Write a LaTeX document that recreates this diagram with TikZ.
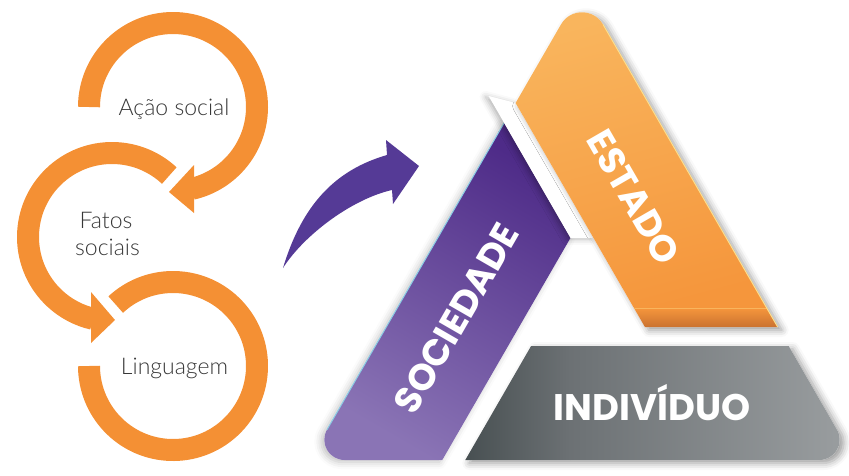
\documentclass[tikz,border=0pt]{standalone}
\usepackage{fontspec}
\newfontfamily\labelfont{Lato Light}
\newfontfamily\bandfont{Poppins Bold}
\usetikzlibrary{calc,shadows.blur}

\definecolor{ringorange}{RGB}{244,144,52}
\definecolor{labelgrey}{RGB}{55,55,55}
\definecolor{arrowpurple}{RGB}{85,58,150}
\definecolor{orangeTop}{RGB}{249,181,93}
\definecolor{orangeMid}{RGB}{245,150,60}
\definecolor{orangeDeep}{RGB}{200,112,48}
\definecolor{purpleDark}{RGB}{78,43,136}
\definecolor{purpleLight}{RGB}{138,116,181}
\definecolor{greyDark}{RGB}{70,78,80}
\definecolor{greyMid}{RGB}{108,113,116}
\definecolor{greyLight}{RGB}{156,160,162}
\definecolor{edgeBlue}{RGB}{140,205,230}
\definecolor{edgeYellow}{RGB}{252,222,140}

\tikzset{
  ring/.style={draw=ringorange, line width=22pt},
  ringhead/.style={fill=ringorange},
  lab/.style={font=\labelfont\fontsize{23}{27}\selectfont, text=labelgrey, inner sep=0pt},
  bandtext/.style={font=\bandfont\fontsize{37}{40}\selectfont, text=white, inner sep=0pt},
  bandshadow/.style={blur shadow={shadow xshift=4pt, shadow yshift=-3pt,
      shadow blur radius=7pt, shadow opacity=40}},
}

\begin{document}
\begin{tikzpicture}[x=1pt,y=-1pt]
\useasboundingbox (0,0) rectangle (849,475);

% ---------- cycle of three rings ----------
\coordinate (c1) at (173,107);
\coordinate (c2) at (112,237);
\coordinate (c3) at (173,366);

\draw[ring] ($(c1)+(180:84)$) arc[start angle=180, end angle=437, radius=84];
\fill[ringhead] (194,165) -- (194,213) -- (169,192) -- cycle;

\draw[ring] ($(c2)+(-47:84)$) arc[start angle=-47, end angle=-257, radius=84];
\fill[ringhead] (91,292) -- (91,343) -- (115,320) -- cycle;

\draw[ring] ($(c3)+(-133:84)$) arc[start angle=-133, end angle=180, radius=84];

\node[lab, anchor=base] (acao) at (174,115) {Ação social};
\node[lab, anchor=base] (fatos) at (106,228) {Fatos};
\node[lab, anchor=base] (sociais) at (107.5,255) {sociais};
\node[lab, anchor=base] (linguagem) at (174.5,374) {Linguagem};

% ---------- curved purple arrow ----------
\fill[arrowpurple] (283,268) .. controls (302,205) and (335,170) .. (387,155)
  -- (386,140) -- (419,166) -- (393,204) -- (392,190)
  .. controls (352,199) and (304,235) .. (283,268) -- cycle;

% ---------- triangle of three bands ----------
\coordinate (A)  at (582,-12);
\coordinate (BL) at (309.5,460);
\coordinate (BR) at (854.5,460);

% society band (left side)
\coordinate (pT)   at (504.1,122.9);
\coordinate (pR)   at (570.5,237.9);
\coordinate (pB)   at (442.3,460);
\coordinate (pBLb) at (344.5,460);
\coordinate (pBLl) at (327,429.7);
\def\purplepath{(pT) -- (pR) -- (pB) -- (pBLb)
  .. controls ($(pBLb)!0.444!(BL)$) and ($(pBLl)!0.444!(BL)$) .. (pBLl) -- cycle}
\fill[white, blur shadow={shadow xshift=-3pt, shadow yshift=-2pt,
      shadow blur radius=7pt, shadow opacity=25}] \purplepath;
\shade[top color=purpleDark, bottom color=purpleLight, shading angle=-30] \purplepath;
\draw[edgeBlue, line width=1pt] (pT) -- (pBLl);

% state band corners
\coordinate (oTL) at (561,24.4);
\coordinate (oTR) at (603,24.4);
\coordinate (oBR) at (777.7,327);
\coordinate (oBL) at (644.9,327);
\coordinate (oUL) at (515.6,103);

% white strip between society and state, casting a soft shadow
\fill[white, blur shadow={shadow xshift=-3pt, shadow yshift=-1pt,
      shadow blur radius=6pt, shadow opacity=30}]
  (488.6,96) -- (oUL) -- (593.5,237.9) -- (pR) -- cycle;

% state band (right side)
\def\orangepath{(oTL) .. controls ($(oTL)!0.444!(A)$) and ($(oTR)!0.444!(A)$) .. (oTR)
  -- (oBR) -- (oBL) -- (oUL) -- cycle}
\fill[white, bandshadow] \orangepath;
\begin{scope}
  \clip \orangepath;
  \shade[top color=orangeTop, bottom color=orangeMid, shading angle=15] (500,10) rectangle (790,308);
  \shade[top color=orangeMid, bottom color=orangeDeep] (500,308) rectangle (790,328);
  \draw[orangeTop, line width=0.6pt] (500,308) -- (790,308);
\end{scope}
\draw[edgeYellow, line width=1pt] (oTR) -- (oBR);

% individual band (bottom)
\coordinate (gTL) at (531.1,346);
\coordinate (gTR) at (788.7,346);
\coordinate (gRr) at (837,429.7);
\coordinate (gRb) at (819.5,460);
\coordinate (gBL) at (465.3,460);
\def\greypath{(gTL) -- (gTR) -- (gRr)
  .. controls ($(gRr)!0.444!(BR)$) and ($(gRb)!0.444!(BR)$) .. (gRb) -- (gBL) -- cycle}
\fill[white, bandshadow] \greypath;
\begin{scope}
  \clip \greypath;
  \shade[left color=greyDark, right color=greyMid] (460,340) rectangle (570,465);
  \shade[left color=greyMid, right color=greyLight] (570,340) rectangle (860,465);
\end{scope}

% band labels
\node[bandtext, rotate=-60, anchor=base] (estado) at (622.3,203.8) {ESTADO};
\node[bandtext, rotate=60, anchor=base] (sociedade) at (467.7,324.8) {SOCIEDADE};
\node[bandtext, anchor=base] (individuo) at (652,420) {INDIVÍDUO};

\end{tikzpicture}
\end{document}
